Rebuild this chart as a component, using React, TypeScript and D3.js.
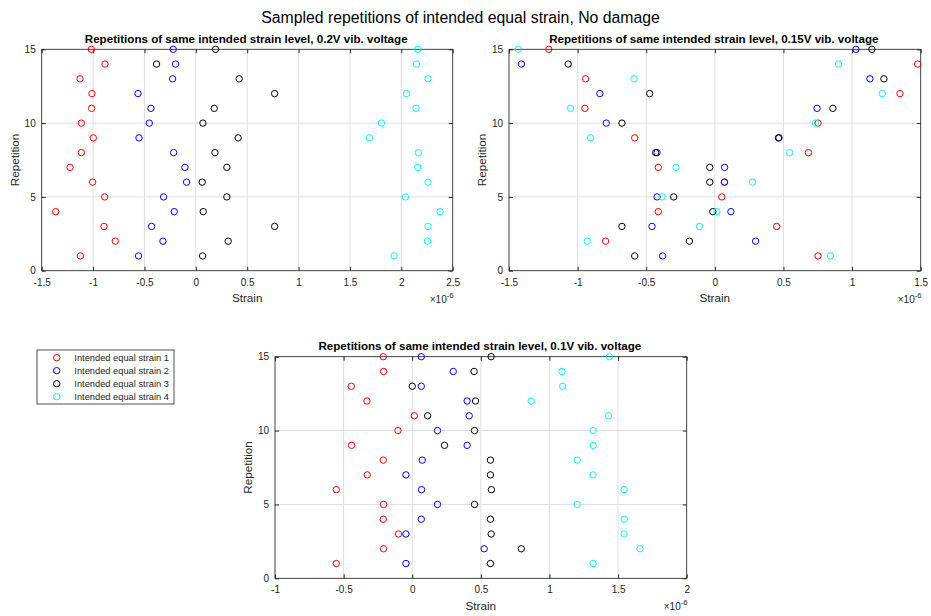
import React, { useEffect, useRef } from 'react';
import * as d3 from 'd3';

// ---------------- data ----------------
const repetitions = [1, 2, 3, 4, 5, 6, 7, 8, 9, 10, 11, 12, 13, 14, 15];
const yTicks = [0, 5, 10, 15];
const xTicks02 = [-1.5, -1, -0.5, 0, 0.5, 1, 1.5, 2, 2.5];
const xTicks015 = [-1.5, -1, -0.5, 0, 0.5, 1, 1.5];
const xTicks01 = [-1, -0.5, 0, 0.5, 1, 1.5, 2];
const seriesNames = ['Intended equal strain 1', 'Intended equal strain 2', 'Intended equal strain 3', 'Intended equal strain 4'];

// strain values (x 1e-6), repetition 1..15
const v02_s1 = [-1.124, -0.784, -0.894, -1.364, -0.887, -1.004, -1.224, -1.114, -0.998, -1.114, -1.014, -1.011, -1.127, -0.884, -1.017];
const v02_s2 = [-0.557, -0.32, -0.43, -0.21, -0.314, -0.09, -0.106, -0.216, -0.553, -0.453, -0.437, -0.563, -0.226, -0.197, -0.22];
const v02_s3 = [0.066, 0.315, 0.767, 0.072, 0.302, 0.062, 0.302, 0.186, 0.412, 0.069, 0.179, 0.767, 0.422, -0.382, 0.192];
const v02_s4 = [1.93, 2.254, 2.26, 2.377, 2.04, 2.26, 2.16, 2.166, 1.69, 1.807, 2.144, 2.05, 2.26, 2.147, 2.16];

const v015_s1 = [0.752, -0.796, 0.45, -0.412, 0.051, 0.07, -0.412, 0.682, -0.584, 0.752, -0.947, 1.349, -0.942, 1.478, -1.21];
const v015_s2 = [-0.38, 0.297, -0.458, 0.117, -0.421, 0.07, 0.071, -0.421, 0.463, -0.791, 0.745, -0.838, 1.13, -1.41, 1.028];
const v015_s3 = [-0.584, -0.185, -0.677, -0.015, -0.3, -0.037, -0.037, -0.431, 0.467, -0.677, 0.86, -0.475, 1.232, -1.069, 1.144];
const v015_s4 = [0.842, -0.93, -0.112, 0.015, -0.385, 0.275, -0.283, 0.545, -0.906, 0.733, -1.052, 1.22, -0.589, 0.901, -1.432];

const v01_s1 = [-0.553, -0.209, -0.1, -0.211, -0.209, -0.553, -0.328, -0.211, -0.442, -0.104, 0.015, -0.33, -0.444, -0.209, -0.211];
const v01_s2 = [-0.046, 0.524, -0.046, 0.066, 0.184, 0.068, -0.046, 0.073, 0.4, 0.184, 0.415, 0.4, 0.066, 0.299, 0.066];
const v01_s3 = [0.57, 0.795, 0.575, 0.57, 0.454, 0.577, 0.57, 0.57, 0.235, 0.454, 0.112, 0.461, 0.0, 0.451, 0.575];
const v01_s4 = [1.318, 1.66, 1.544, 1.546, 1.202, 1.544, 1.318, 1.202, 1.318, 1.318, 1.43, 0.866, 1.096, 1.091, 1.437];

const mainTitle = 'Sampled repetitions of intended equal strain, No damage';
const title02 = 'Repetitions of same intended strain level, 0.2V vib. voltage';
const title015 = 'Repetitions of same intended strain level, 0.15V vib. voltage';
const title01 = 'Repetitions of same intended strain level, 0.1V vib. voltage';

// ---------------- style ----------------
const FONT = '"Liberation Sans", Arial, Helvetica, sans-serif';
const COLORS = ['#ff0000', '#0000ff', '#000000', '#00ffff'];
const AXIS = '#262626';
const GRID = '#dedede';

type Panel = {
  left: number; top: number; width: number; height: number;
  xDomain: [number, number]; xTicks: number[]; title: string; series: number[][];
};

function drawPanel(svg: d3.Selection<SVGSVGElement, unknown, null, undefined>, p: Panel) {
  const g = svg.append('g');
  const x = d3.scaleLinear().domain(p.xDomain).range([p.left, p.left + p.width]);
  const y = d3.scaleLinear().domain([0, 15]).range([p.top + p.height, p.top]);
  const bottom = p.top + p.height;
  const right = p.left + p.width;

  g.append('rect').attr('x', p.left).attr('y', p.top).attr('width', p.width).attr('height', p.height).attr('fill', '#fff');

  // grid
  g.selectAll('line.vg').data(p.xTicks).join('line').attr('class', 'vg')
    .attr('x1', (d) => x(d)).attr('x2', (d) => x(d)).attr('y1', p.top).attr('y2', bottom)
    .attr('stroke', GRID).attr('stroke-width', 1);
  g.selectAll('line.hg').data(yTicks).join('line').attr('class', 'hg')
    .attr('y1', (d) => y(d)).attr('y2', (d) => y(d)).attr('x1', p.left).attr('x2', right)
    .attr('stroke', GRID).attr('stroke-width', 1);

  const fmt = (d: d3.NumberValue) => String(d);
  const axB = d3.axisBottom(x).tickValues(p.xTicks).tickSize(-4).tickSizeOuter(0).tickPadding(8).tickFormat(fmt);
  const axT = d3.axisTop(x).tickValues(p.xTicks).tickSize(-4).tickSizeOuter(0).tickFormat(() => '');
  const axL = d3.axisLeft(y).tickValues(yTicks).tickSize(-4).tickSizeOuter(0).tickPadding(6).tickFormat(fmt);
  const axR = d3.axisRight(y).tickValues(yTicks).tickSize(-4).tickSizeOuter(0).tickFormat(() => '');

  const gb = g.append('g').attr('transform', `translate(0,${bottom})`).call(axB);
  const gt = g.append('g').attr('transform', `translate(0,${p.top})`).call(axT);
  const gl = g.append('g').attr('transform', `translate(${p.left},0)`).call(axL);
  const gr = g.append('g').attr('transform', `translate(${right},0)`).call(axR);
  [gb, gt, gl, gr].forEach((a) => {
    a.attr('color', AXIS).attr('font-family', FONT).attr('font-size', 10);
    a.select('.domain').remove();
    a.selectAll('text').attr('fill', AXIS);
  });

  // box
  g.append('rect').attr('x', p.left).attr('y', p.top).attr('width', p.width).attr('height', p.height)
    .attr('fill', 'none').attr('stroke', AXIS).attr('stroke-width', 0.8);

  // points
  p.series.forEach((vals, si) => {
    g.append('g').selectAll('circle').data(vals).join('circle')
      .attr('cx', (d) => x(d)).attr('cy', (_d, i) => y(repetitions[i]))
      .attr('r', 3.2).attr('fill', 'none').attr('stroke', COLORS[si]).attr('stroke-width', 1);
  });

  // title
  g.append('text').attr('x', (p.left + right) / 2 - 1).attr('y', p.top - 6.6)
    .attr('text-anchor', 'middle').attr('font-family', FONT).attr('font-size', 11.6)
    .attr('font-weight', 'bold').attr('fill', '#000').text(p.title);

  // x label
  g.append('text').attr('x', (p.left + right) / 2).attr('y', bottom + 31.5)
    .attr('text-anchor', 'middle').attr('font-family', FONT).attr('font-size', 11.7)
    .attr('fill', AXIS).text('Strain');

  // exponent
  const ex = g.append('text').attr('x', right + 1).attr('y', bottom + 32)
    .attr('text-anchor', 'end').attr('font-family', FONT).attr('font-size', 10).attr('fill', AXIS);
  ex.append('tspan').text('×10');
  ex.append('tspan').attr('dy', -5).attr('font-size', 7.8).text('-6');

  // y label
  const cy = (p.top + bottom) / 2;
  g.append('text').attr('transform', `translate(${p.left - 27},${cy}) rotate(-90)`)
    .attr('text-anchor', 'middle').attr('dy', '0.35em').attr('font-family', FONT).attr('font-size', 11.7)
    .attr('fill', AXIS).text('Repetition');
}

export default function App() {
  const ref = useRef<SVGSVGElement | null>(null);

  useEffect(() => {
    if (!ref.current) return;
    const svg = d3.select(ref.current);
    svg.selectAll('*').remove();

    svg.append('rect').attr('width', 931).attr('height', 616).attr('fill', '#fff');

    svg.append('text').attr('x', 460.5).attr('y', 23.3).attr('text-anchor', 'middle')
      .attr('font-family', FONT).attr('font-size', 15.8).attr('fill', '#000').text(mainTitle);

    const panels: Panel[] = [
      { left: 41.7, top: 49.3, width: 411, height: 221.4, xDomain: [-1.5, 2.5], xTicks: xTicks02, title: title02,
        series: [v02_s1, v02_s2, v02_s3, v02_s4] },
      { left: 509, top: 49.3, width: 411.7, height: 221.4, xDomain: [-1.5, 1.5], xTicks: xTicks015, title: title015,
        series: [v015_s1, v015_s2, v015_s3, v015_s4] },
      { left: 275, top: 356.7, width: 411.7, height: 221.6, xDomain: [-1, 2], xTicks: xTicks01, title: title01,
        series: [v01_s1, v01_s2, v01_s3, v01_s4] },
    ];
    panels.forEach((p) => drawPanel(svg, p));

    // legend
    const lg = svg.append('g');
    const lx = 37, ly = 350, lw = 137, lh = 54;
    lg.append('rect').attr('x', lx).attr('y', ly).attr('width', lw).attr('height', lh)
      .attr('fill', '#fff').attr('stroke', AXIS).attr('stroke-width', 0.8);
    const rowY = d3.scaleLinear().domain([0, 3]).range([ly + 7.7, ly + 46.7]);
    seriesNames.forEach((name, i) => {
      lg.append('circle').attr('cx', lx + 19.7).attr('cy', rowY(i)).attr('r', 3.2)
        .attr('fill', 'none').attr('stroke', COLORS[i]).attr('stroke-width', 1);
      lg.append('text').attr('x', lx + 37.3).attr('y', rowY(i)).attr('dy', '0.35em')
        .attr('font-family', FONT).attr('font-size', 9.3).attr('fill', AXIS).text(name);
    });
  }, []);

  return (
    <div style={{ position: 'absolute', left: 0, top: 0 }}>
      <svg ref={ref} width={931} height={616} style={{ display: 'block' }} />
    </div>
  );
}
